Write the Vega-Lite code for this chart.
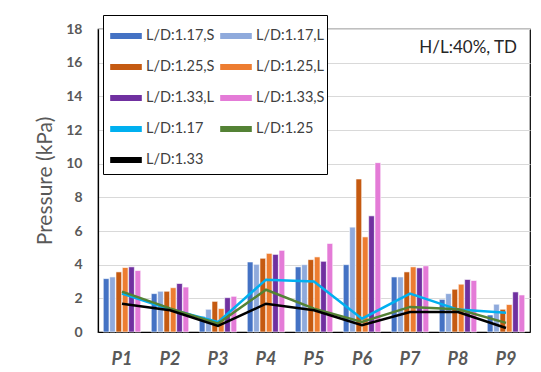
{
  "$schema": "https://vega.github.io/schema/vega-lite/v6.json",
  "width": 432,
  "height": 303,
  "autosize": {"type": "none"},
  "padding": {"left": 98, "top": 29, "right": 11, "bottom": 40},
  "background": "white",
  "config": {
    "font": "Lato",
    "view": {"stroke": "#000000", "strokeWidth": 1.2}
  },
  "datasets": {
    "bars": [
      {"point": "P1", "series": "L/D:1.17,S", "pressure": 3.17},
      {"point": "P1", "series": "L/D:1.17,L", "pressure": 3.27},
      {"point": "P1", "series": "L/D:1.25,S", "pressure": 3.57},
      {"point": "P1", "series": "L/D:1.25,L", "pressure": 3.83},
      {"point": "P1", "series": "L/D:1.33,L", "pressure": 3.87},
      {"point": "P1", "series": "L/D:1.33,S", "pressure": 3.65},
      {"point": "P2", "series": "L/D:1.17,S", "pressure": 2.28},
      {"point": "P2", "series": "L/D:1.17,L", "pressure": 2.42},
      {"point": "P2", "series": "L/D:1.25,S", "pressure": 2.42},
      {"point": "P2", "series": "L/D:1.25,L", "pressure": 2.63},
      {"point": "P2", "series": "L/D:1.33,L", "pressure": 2.88},
      {"point": "P2", "series": "L/D:1.33,S", "pressure": 2.67},
      {"point": "P3", "series": "L/D:1.17,S", "pressure": 0.93},
      {"point": "P3", "series": "L/D:1.17,L", "pressure": 1.35},
      {"point": "P3", "series": "L/D:1.25,S", "pressure": 1.82},
      {"point": "P3", "series": "L/D:1.25,L", "pressure": 1.39},
      {"point": "P3", "series": "L/D:1.33,L", "pressure": 2.04},
      {"point": "P3", "series": "L/D:1.33,S", "pressure": 2.12},
      {"point": "P4", "series": "L/D:1.17,S", "pressure": 4.16},
      {"point": "P4", "series": "L/D:1.17,L", "pressure": 4.02},
      {"point": "P4", "series": "L/D:1.25,S", "pressure": 4.38},
      {"point": "P4", "series": "L/D:1.25,L", "pressure": 4.67},
      {"point": "P4", "series": "L/D:1.33,L", "pressure": 4.61},
      {"point": "P4", "series": "L/D:1.33,S", "pressure": 4.85},
      {"point": "P5", "series": "L/D:1.17,S", "pressure": 3.87},
      {"point": "P5", "series": "L/D:1.17,L", "pressure": 4.0},
      {"point": "P5", "series": "L/D:1.25,S", "pressure": 4.3},
      {"point": "P5", "series": "L/D:1.25,L", "pressure": 4.46},
      {"point": "P5", "series": "L/D:1.33,L", "pressure": 4.2},
      {"point": "P5", "series": "L/D:1.33,S", "pressure": 5.26},
      {"point": "P6", "series": "L/D:1.17,S", "pressure": 4.0},
      {"point": "P6", "series": "L/D:1.17,L", "pressure": 6.23},
      {"point": "P6", "series": "L/D:1.25,S", "pressure": 9.09},
      {"point": "P6", "series": "L/D:1.25,L", "pressure": 5.65},
      {"point": "P6", "series": "L/D:1.33,L", "pressure": 6.9},
      {"point": "P6", "series": "L/D:1.33,S", "pressure": 10.06},
      {"point": "P7", "series": "L/D:1.17,S", "pressure": 3.27},
      {"point": "P7", "series": "L/D:1.17,L", "pressure": 3.27},
      {"point": "P7", "series": "L/D:1.25,S", "pressure": 3.57},
      {"point": "P7", "series": "L/D:1.25,L", "pressure": 3.87},
      {"point": "P7", "series": "L/D:1.33,L", "pressure": 3.81},
      {"point": "P7", "series": "L/D:1.33,S", "pressure": 3.93},
      {"point": "P8", "series": "L/D:1.17,S", "pressure": 1.94},
      {"point": "P8", "series": "L/D:1.17,L", "pressure": 2.28},
      {"point": "P8", "series": "L/D:1.25,S", "pressure": 2.54},
      {"point": "P8", "series": "L/D:1.25,L", "pressure": 2.84},
      {"point": "P8", "series": "L/D:1.33,L", "pressure": 3.12},
      {"point": "P8", "series": "L/D:1.33,S", "pressure": 3.06},
      {"point": "P9", "series": "L/D:1.17,S", "pressure": 1.01},
      {"point": "P9", "series": "L/D:1.17,L", "pressure": 1.65},
      {"point": "P9", "series": "L/D:1.25,S", "pressure": 1.35},
      {"point": "P9", "series": "L/D:1.25,L", "pressure": 1.63},
      {"point": "P9", "series": "L/D:1.33,L", "pressure": 2.38},
      {"point": "P9", "series": "L/D:1.33,S", "pressure": 2.2}
    ],
    "lines": [
      {"point": "P1", "series": "L/D:1.17", "pressure": 2.28},
      {"point": "P2", "series": "L/D:1.17", "pressure": 1.35},
      {"point": "P3", "series": "L/D:1.17", "pressure": 0.59},
      {"point": "P4", "series": "L/D:1.17", "pressure": 3.11},
      {"point": "P5", "series": "L/D:1.17", "pressure": 3.0},
      {"point": "P6", "series": "L/D:1.17", "pressure": 0.79},
      {"point": "P7", "series": "L/D:1.17", "pressure": 2.28},
      {"point": "P8", "series": "L/D:1.17", "pressure": 1.33},
      {"point": "P9", "series": "L/D:1.17", "pressure": 1.15},
      {"point": "P1", "series": "L/D:1.25", "pressure": 2.4},
      {"point": "P2", "series": "L/D:1.25", "pressure": 1.4},
      {"point": "P3", "series": "L/D:1.25", "pressure": 0.5},
      {"point": "P4", "series": "L/D:1.25", "pressure": 2.51},
      {"point": "P5", "series": "L/D:1.25", "pressure": 1.39},
      {"point": "P6", "series": "L/D:1.25", "pressure": 0.6},
      {"point": "P7", "series": "L/D:1.25", "pressure": 1.49},
      {"point": "P8", "series": "L/D:1.25", "pressure": 1.35},
      {"point": "P9", "series": "L/D:1.25", "pressure": 0.54},
      {"point": "P1", "series": "L/D:1.33", "pressure": 1.68},
      {"point": "P2", "series": "L/D:1.33", "pressure": 1.29},
      {"point": "P3", "series": "L/D:1.33", "pressure": 0.36},
      {"point": "P4", "series": "L/D:1.33", "pressure": 1.68},
      {"point": "P5", "series": "L/D:1.33", "pressure": 1.29},
      {"point": "P6", "series": "L/D:1.33", "pressure": 0.4},
      {"point": "P7", "series": "L/D:1.33", "pressure": 1.19},
      {"point": "P8", "series": "L/D:1.33", "pressure": 1.19},
      {"point": "P9", "series": "L/D:1.33", "pressure": 0.24}
    ],
    "note": [
      {"point": "P9", "pressure": 16.9, "label": "H/L:40%, TD"}
    ]
  },
  "encoding": {
    "x": {
      "field": "point",
      "type": "nominal",
      "scale": {"paddingInner": 0.22, "paddingOuter": 0.11},
      "axis": {
        "title": null,
        "labelAngle": 0,
        "labelFontSize": 18,
        "labelFontWeight": "bold",
        "labelFontStyle": "italic",
        "labelColor": "#595959",
        "labelPadding": 18,
        "ticks": false,
        "domainColor": "#000000",
        "domainWidth": 1.2
      }
    },
    "y": {
      "field": "pressure",
      "type": "quantitative",
      "scale": {"domain": [0, 18], "nice": false},
      "axis": {
        "title": "Pressure (kPa)",
        "titleFontSize": 21,
        "titleFontWeight": "normal",
        "titleColor": "#595959",
        "titlePadding": 10,
        "values": [0, 2, 4, 6, 8, 10, 12, 14, 16, 18],
        "labelFontSize": 14,
        "labelFontWeight": "bold",
        "labelColor": "#595959",
        "labelPadding": 16,
        "ticks": false,
        "gridColor": "#D9D9D9",
        "gridWidth": 1.2,
        "domainColor": "#000000",
        "domainWidth": 1.2
      }
    }
  },
  "layer": [
    {
      "data": {"name": "bars"},
      "mark": {"type": "bar", "stroke": "white", "strokeWidth": 0.6},
      "encoding": {
        "xOffset": {
          "field": "series",
          "type": "nominal",
          "scale": {
            "domain": ["L/D:1.17,S", "L/D:1.17,L", "L/D:1.25,S", "L/D:1.25,L", "L/D:1.33,L", "L/D:1.33,S"],
            "paddingInner": 0.1
          }
        },
        "color": {
          "field": "series",
          "type": "nominal",
          "scale": {
            "domain": ["L/D:1.17,S", "L/D:1.17,L", "L/D:1.25,S", "L/D:1.25,L", "L/D:1.33,L", "L/D:1.33,S", "L/D:1.17", "L/D:1.25", "L/D:1.33"],
            "range": ["#4472C4", "#8FAADC", "#C55A11", "#ED7D31", "#7030A0", "#E47BD7", "#00B0F0", "#548235", "#000000"]
          },
          "legend": {
            "title": null,
            "orient": "none",
            "direction": "horizontal",
            "legendX": 5,
            "legendY": -14,
            "columns": 2,
            "symbolType": "stroke",
            "symbolSize": 1000,
            "symbolStrokeWidth": 6,
            "symbolOffset": 2,
            "labelFontSize": 14.5,
            "labelColor": "#404040",
            "labelOffset": 1,
            "labelLimit": 80,
            "strokeColor": "#000000",
            "fillColor": "#ffffff",
            "padding": 2,
            "rowPadding": -1,
            "columnPadding": -25,
            "encode": {
              "symbols": {
                "update": {
                  "stroke": {"scale": "color", "field": "value"},
                  "strokeWidth": {"signal": "indexOf(datum.label, ',') >= 0 ? 6 : 2.5"}
                }
              }
            }
          }
        }
      }
    },
    {
      "data": {"name": "lines"},
      "mark": {"type": "line", "strokeWidth": 2.5},
      "encoding": {
        "color": {"field": "series", "type": "nominal"}
      }
    },
    {
      "data": {"name": "note"},
      "mark": {"type": "text", "align": "right", "baseline": "middle", "fontSize": 17, "color": "#262626", "dx": 11},
      "encoding": {
        "text": {"field": "label"}
      }
    }
  ]
}
